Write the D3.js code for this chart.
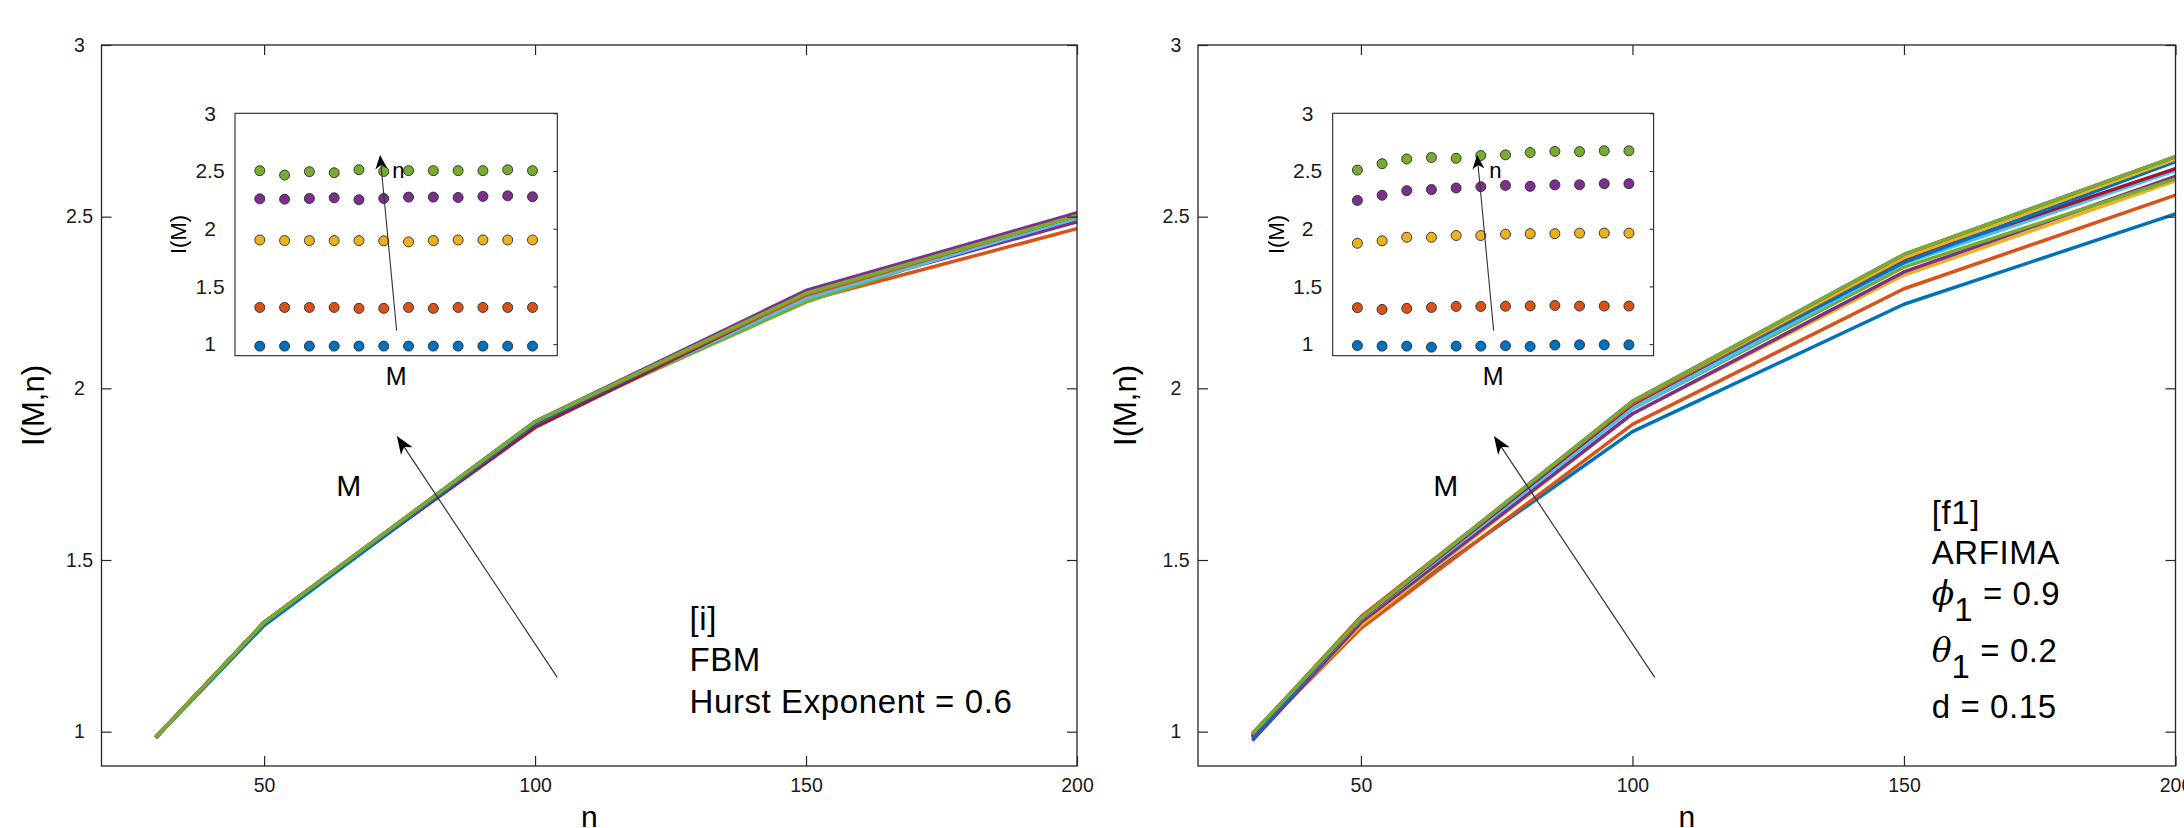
<!DOCTYPE html>
<html>
<head>
<meta charset="utf-8">
<script src="https://cdn.jsdelivr.net/npm/d3@7"></script>
<style>
  html, body { margin: 0; padding: 0; background: #ffffff; }
  svg { display: block; }
  text { font-family: "Liberation Sans", Arial, Helvetica, sans-serif; }
</style>
</head>
<body>
<svg id="chart" width="2184" height="828"></svg>
<script>
// ---------------------------------------------------------------
// Data: I(M, n) for window sizes n (rows) and M = 1..12 (columns)
// ---------------------------------------------------------------
const nValues = [30, 50, 100, 150, 200];
const mValues = [1, 2, 3, 4, 5, 6, 7, 8, 9, 10, 11, 12];
const yTickValues = [1, 1.5, 2, 2.5, 3];
const xTickValues = [50, 100, 150, 200];
const insetTickValues = [1, 1.5, 2, 2.5, 3];

// Fractional Brownian motion, Hurst exponent 0.6
const fbmN30  = [0.983, 0.983, 0.983, 0.983, 0.983, 0.983, 0.983, 0.983, 0.983, 0.983, 0.983, 0.983];
const fbmN50  = [1.318, 1.318, 1.318, 1.318, 1.310, 1.310, 1.318, 1.310, 1.318, 1.318, 1.318, 1.318];
const fbmN100 = [1.903, 1.897, 1.897, 1.897, 1.897, 1.895, 1.886, 1.897, 1.903, 1.903, 1.903, 1.903];
const fbmN150 = [2.259, 2.256, 2.262, 2.268, 2.251, 2.262, 2.274, 2.274, 2.271, 2.280, 2.285, 2.277];
const fbmN200 = [2.503, 2.465, 2.494, 2.485, 2.511, 2.496, 2.503, 2.503, 2.503, 2.503, 2.511, 2.503];

// ARFIMA(1, d, 1): phi1 = 0.9, theta1 = 0.2, d = 0.15
const arfimaN30  = [0.988, 0.983, 0.983, 0.974, 0.983, 0.983, 0.986, 0.980, 0.992, 0.994, 0.994, 0.994];
const arfimaN50  = [1.316, 1.301, 1.310, 1.318, 1.327, 1.327, 1.328, 1.331, 1.335, 1.330, 1.330, 1.330];
const arfimaN100 = [1.874, 1.895, 1.926, 1.926, 1.941, 1.941, 1.953, 1.957, 1.957, 1.962, 1.962, 1.962];
const arfimaN150 = [2.245, 2.290, 2.330, 2.339, 2.353, 2.364, 2.375, 2.367, 2.380, 2.381, 2.390, 2.390];
const arfimaN200 = [2.508, 2.563, 2.604, 2.617, 2.610, 2.634, 2.640, 2.660, 2.670, 2.668, 2.675, 2.675];

const fbmRows = [fbmN30, fbmN50, fbmN100, fbmN150, fbmN200];
const arfimaRows = [arfimaN30, arfimaN50, arfimaN100, arfimaN150, arfimaN200];

// default line colour cycle
const colorOrder = ["#0072BD", "#D95319", "#EDB120", "#7E2F8E", "#77AC30", "#4DBEEE", "#A2142F"];

// ---------------------------------------------------------------
// Layout
// ---------------------------------------------------------------
const axisColor = "#262626";
const plotTop = 45, plotBottom = 766;
const insetTop = 113.3, insetBottom = 355.7;

const panels = [
  {
    rows: fbmRows, left: 101.5, right: 1077, insetLeft: 235, insetRight: 557.3,
    yLabelX: 44,
    note: { n: 128.5, v: 1.296 },
    noteLines: [
      [{ t: "[i]" }],
      [{ t: "FBM" }],
      [{ t: "Hurst Exponent = 0.6" }]
    ],
    noteSpacing: [0, 41, 41.7]
  },
  {
    rows: arfimaRows, left: 1198, right: 2175.5, insetLeft: 1332.7, insetRight: 1653.6,
    yLabelX: 1136,
    note: { n: 155.1, v: 1.605 },
    noteLines: [
      [{ t: "[f1]" }],
      [{ t: "ARFIMA" }],
      [{ t: "\u03D5", greek: true }, { t: "1", sub: true }, { t: " = 0.9" }],
      [{ t: "\u03B8", greek: true }, { t: "1", sub: true }, { t: " = 0.2" }],
      [{ t: "d = 0.15" }]
    ],
    noteSpacing: [0, 40, 41, 56.7, 56.6]
  }
];

const svg = d3.select("#chart");

function arrow(g, x1, y1, x2, y2, len, halfW, notch, width) {
  const dx = x2 - x1, dy = y2 - y1, L = Math.hypot(dx, dy);
  const ux = dx / L, uy = dy / L, px = -uy, py = ux;
  const bx = x2 - ux * len, by = y2 - uy * len;
  const nx = x2 - ux * (len - notch), ny = y2 - uy * (len - notch);
  g.append("line")
    .attr("x1", x1).attr("y1", y1).attr("x2", nx).attr("y2", ny)
    .attr("stroke", "#333333").attr("stroke-width", width);
  g.append("path")
    .attr("d", `M${x2},${y2}L${bx + px * halfW},${by + py * halfW}L${nx},${ny}L${bx - px * halfW},${by - py * halfW}Z`)
    .attr("fill", "#000000");
}

panels.forEach(p => {
  const g = svg.append("g");
  const x = d3.scaleLinear().domain([20, 200]).range([p.left, p.right]);
  const y = d3.scaleLinear().domain([0.9, 3]).range([plotBottom, plotTop]);

  // ---- main curves: one line per M, drawn in order so M = 12 ends on top
  const line = d3.line().x(d => x(d.n)).y(d => y(d.v));
  mValues.forEach((m, j) => {
    const pts = nValues.map((n, i) => ({ n: n, v: p.rows[i][j] }));
    g.append("path")
      .datum(pts)
      .attr("d", line)
      .attr("fill", "none")
      .attr("stroke", colorOrder[j % colorOrder.length])
      .attr("stroke-width", 3.5)
      .attr("stroke-linejoin", "round");
  });

  // ---- axes with inward ticks on all four sides
  const fmt = d => String(d);
  const bottom = g.append("g").attr("transform", `translate(0,${plotBottom})`)
    .call(d3.axisBottom(x).tickValues(xTickValues).tickSizeInner(-10).tickSizeOuter(0).tickPadding(12).tickFormat(fmt));
  const top = g.append("g").attr("transform", `translate(0,${plotTop})`)
    .call(d3.axisTop(x).tickValues(xTickValues).tickSizeInner(-10).tickSizeOuter(0).tickFormat(() => ""));
  const left = g.append("g").attr("transform", `translate(${p.left},0)`)
    .call(d3.axisLeft(y).tickValues(yTickValues).tickSizeInner(-10).tickSizeOuter(0).tickFormat(fmt));
  const right = g.append("g").attr("transform", `translate(${p.right},0)`)
    .call(d3.axisRight(y).tickValues(yTickValues).tickSizeInner(-10).tickSizeOuter(0).tickFormat(() => ""));
  [bottom, top, left, right].forEach(a => {
    a.select(".domain").remove();
    a.selectAll(".tick line").attr("stroke", axisColor).attr("stroke-width", 1.2);
    a.selectAll(".tick text").attr("fill", "#1a1a1a").attr("font-size", 19.5)
      .attr("font-family", "'Liberation Sans', Arial, sans-serif");
  });
  left.selectAll(".tick text").attr("text-anchor", "middle").attr("x", -22);

  g.append("rect")
    .attr("x", p.left).attr("y", plotTop)
    .attr("width", p.right - p.left).attr("height", plotBottom - plotTop)
    .attr("fill", "none").attr("stroke", axisColor).attr("stroke-width", 1.3);

  // ---- axis titles
  g.append("text")
    .attr("x", (p.left + p.right) / 2).attr("y", 827)
    .attr("text-anchor", "middle").attr("font-size", 30).attr("fill", "#000")
    .text("n");
  g.append("text")
    .attr("transform", `translate(${p.yLabelX},${(plotTop + plotBottom) / 2}) rotate(-90)`)
    .attr("text-anchor", "middle").attr("font-size", 31).attr("fill", "#000")
    .text("I(M,n)");

  // ---- main "M" arrow and label
  arrow(g, x(104.1), y(1.158), x(74.5), y(1.861), 18, 7, 5, 1.2);
  g.append("text")
    .attr("x", x(63.3)).attr("y", y(1.687))
    .attr("font-size", 30).attr("fill", "#000")
    .text("M");

  // ---- model description
  let by = y(p.note.v);
  p.noteLines.forEach((parts, k) => {
    by += p.noteSpacing[k];
    const t = g.append("text")
      .attr("x", x(p.note.n)).attr("y", by)
      .attr("font-size", 33).attr("letter-spacing", 0.6).attr("fill", "#000");
    parts.forEach((part, idx) => {
      const s = t.append("tspan").text(part.t);
      if (part.greek) {
        s.attr("font-family", "'DejaVu Serif', 'Liberation Serif', serif")
          .attr("font-style", "italic").attr("letter-spacing", 0);
      }
      if (part.sub) s.attr("dy", 16.5);
      else if (idx > 0 && parts[idx - 1].sub) s.attr("dy", -16.5);
    });
  });

  // ---- inset: I(M) versus M, one marker series per n
  const inset = g.append("g");
  const xi = d3.scaleLinear().domain([0, 13]).range([p.insetLeft, p.insetRight]);
  const yi = d3.scaleLinear().domain([0.9, 3]).range([insetBottom, insetTop]);
  inset.append("rect")
    .attr("x", p.insetLeft).attr("y", insetTop)
    .attr("width", p.insetRight - p.insetLeft).attr("height", insetBottom - insetTop)
    .attr("fill", "#ffffff");

  const iLeft = inset.append("g").attr("transform", `translate(${p.insetLeft},0)`)
    .call(d3.axisLeft(yi).tickValues(insetTickValues).tickSize(0).tickFormat(fmt));
  const iRight = inset.append("g").attr("transform", `translate(${p.insetRight},0)`)
    .call(d3.axisRight(yi).tickValues(insetTickValues).tickSizeInner(-4).tickSizeOuter(0).tickFormat(() => ""));
  [iLeft, iRight].forEach(a => {
    a.select(".domain").remove();
    a.selectAll(".tick line").attr("stroke", axisColor).attr("stroke-width", 1);
    a.selectAll(".tick text").attr("fill", "#1a1a1a").attr("font-size", 21)
      .attr("font-family", "'Liberation Sans', Arial, sans-serif")
      .attr("text-anchor", "middle").attr("x", -25);
  });

  nValues.forEach((n, i) => {
    inset.append("g").selectAll("circle")
      .data(mValues.map((m, j) => ({ m: m, v: p.rows[i][j] })))
      .join("circle")
      .attr("cx", d => xi(d.m)).attr("cy", d => yi(d.v)).attr("r", 5)
      .attr("fill", colorOrder[i]).attr("stroke", "#2a2a2a").attr("stroke-width", 0.9);
  });

  inset.append("rect")
    .attr("x", p.insetLeft).attr("y", insetTop)
    .attr("width", p.insetRight - p.insetLeft).attr("height", insetBottom - insetTop)
    .attr("fill", "none").attr("stroke", axisColor).attr("stroke-width", 1.1);

  inset.append("text")
    .attr("x", (p.insetLeft + p.insetRight) / 2).attr("y", 385)
    .attr("text-anchor", "middle").attr("font-size", 25).attr("fill", "#000")
    .text("M");
  inset.append("text")
    .attr("transform", `translate(${p.insetLeft - 49},${(insetTop + insetBottom) / 2}) rotate(-90)`)
    .attr("text-anchor", "middle").attr("font-size", 22).attr("fill", "#000")
    .text("I(M)");

  arrow(inset, xi(6.52), yi(1.117), xi(5.85), yi(2.639), 14, 6, 4, 1.1);
  inset.append("text")
    .attr("x", xi(6.34)).attr("y", yi(2.443))
    .attr("font-size", 22).attr("fill", "#000")
    .text("n");
});
</script>
</body>
</html>
